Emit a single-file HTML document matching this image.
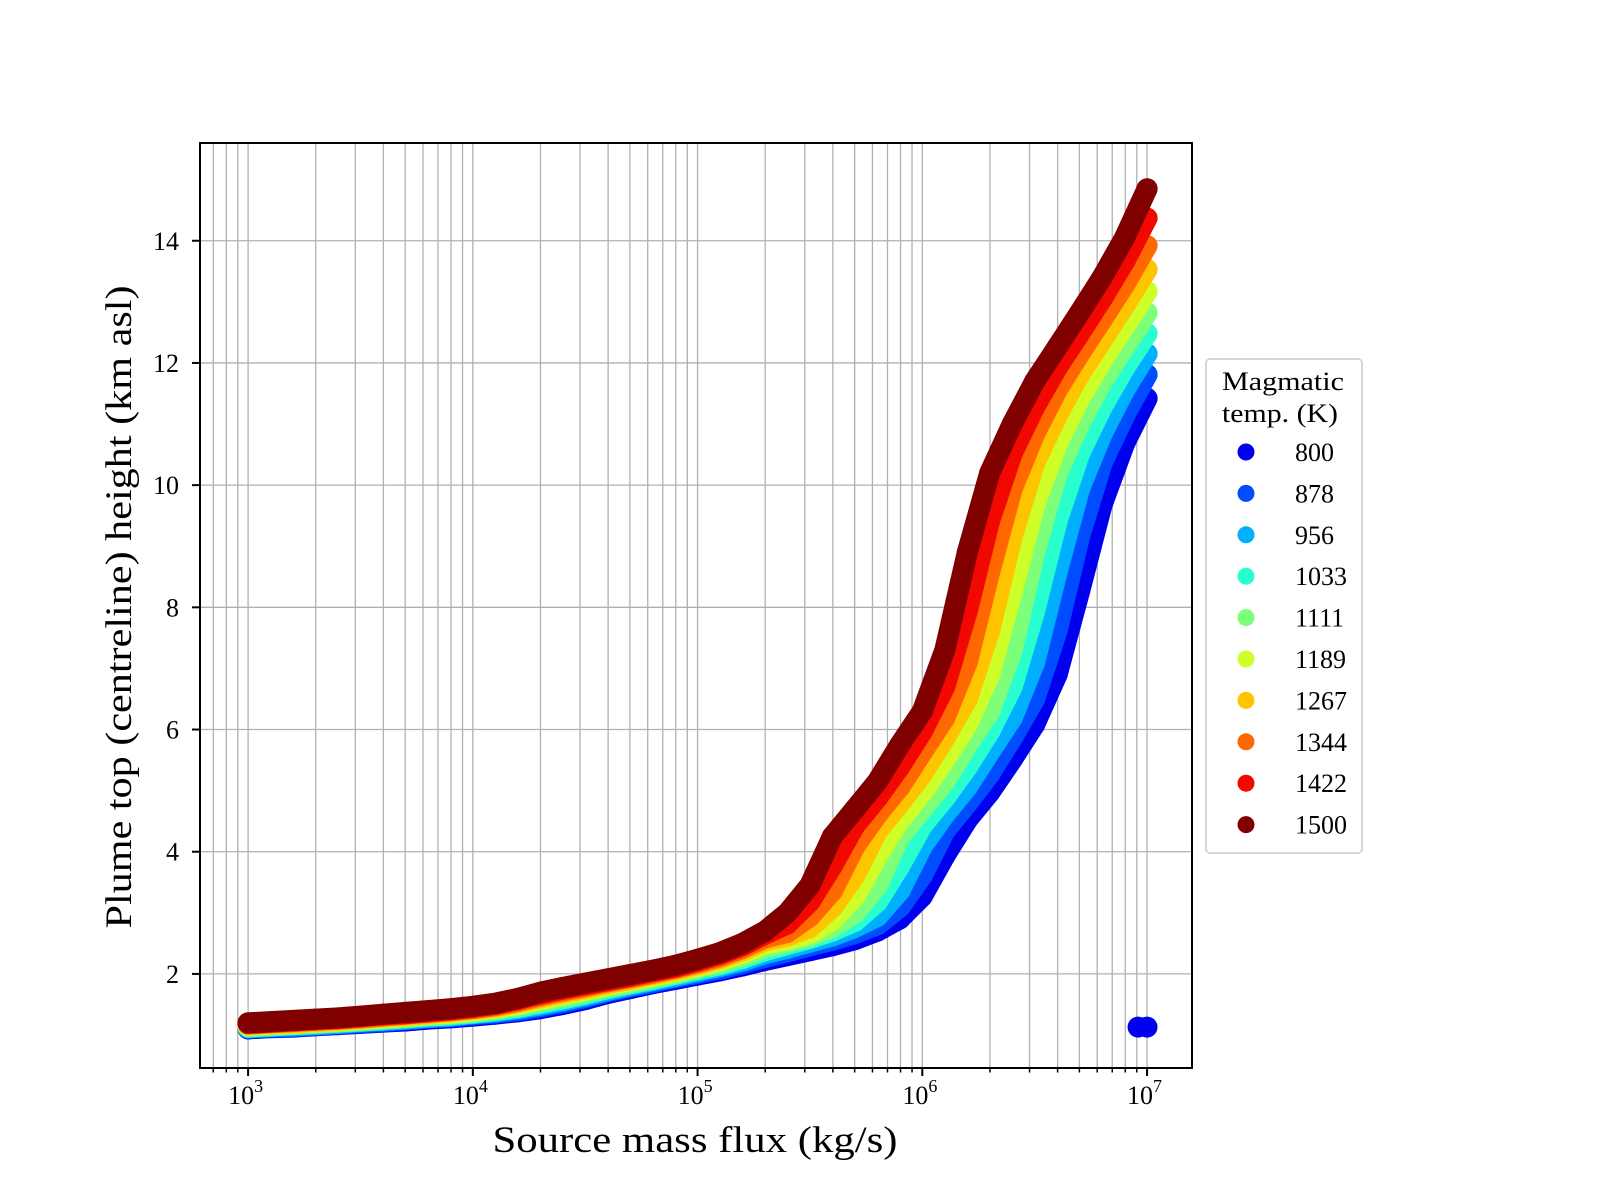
<!DOCTYPE html>
<html><head><meta charset="utf-8"><style>
html,body{margin:0;padding:0;background:#fff;}
svg{display:block;font-family:"Liberation Serif",serif;}
</style></head><body>
<svg id="chart" width="1600" height="1200" viewBox="0 0 1600 1200" xmlns="http://www.w3.org/2000/svg">
<rect x="0" y="0" width="1600" height="1200" fill="#fff"/>
<g id="grid"></g>
<g id="plot"></g>
<rect x="200" y="143" width="992" height="925" fill="none" stroke="#000" stroke-width="2"/>
<g id="xticks"></g>
<g id="yticks"></g>
<text x="695" y="1152" font-size="37" text-anchor="middle" textLength="405" lengthAdjust="spacingAndGlyphs">Source mass flux (kg/s)</text>
<text transform="translate(131,607) rotate(-90)" font-size="37" text-anchor="middle" textLength="643" lengthAdjust="spacingAndGlyphs">Plume top (centreline) height (km asl)</text>
<g id="legend">
<rect x="1206" y="359" width="156" height="494" rx="4" fill="#fff" stroke="#d5d5d5" stroke-width="2"/>
<text x="1222" y="390" font-size="26" textLength="122" lengthAdjust="spacingAndGlyphs">Magmatic</text>
<text x="1222" y="422" font-size="26" textLength="116" lengthAdjust="spacingAndGlyphs">temp. (K)</text>
</g>
</svg>
<script>
const logFlux = [3.0,3.1,3.2,3.3,3.4,3.5,3.6,3.7,3.8,3.9,4.0,4.1,4.2,4.3,4.4,4.5,4.6,4.7,4.8,4.9,5.0,5.1,5.2,5.3,5.4,5.5,5.6,5.7,5.8,5.9,6.0,6.1,6.2,6.3,6.4,6.5,6.6,6.7,6.8,6.9,7.0];
const temps = ["800","878","956","1033","1111","1189","1267","1344","1422","1500"];
const colors = ["#0000ee","#004cff","#00b0ff","#29ffce","#7dff7a","#ceff29","#ffc400","#ff6800","#f10800","#800000"];
const h800  = [1.10,1.12,1.13,1.15,1.17,1.19,1.21,1.23,1.26,1.28,1.31,1.34,1.38,1.43,1.50,1.58,1.68,1.76,1.84,1.91,1.98,2.05,2.13,2.22,2.30,2.38,2.46,2.56,2.70,2.90,3.27,3.93,4.52,4.97,5.51,6.08,6.90,8.26,9.68,10.68,11.42];
const h878  = [1.11,1.13,1.14,1.16,1.18,1.20,1.22,1.25,1.28,1.30,1.33,1.36,1.40,1.46,1.53,1.61,1.71,1.79,1.86,1.94,2.01,2.08,2.17,2.27,2.36,2.46,2.55,2.66,2.80,3.09,3.61,4.34,4.79,5.27,5.86,6.50,7.62,9.16,10.36,11.14,11.81];
const h956  = [1.12,1.14,1.15,1.17,1.19,1.22,1.24,1.26,1.29,1.31,1.35,1.38,1.43,1.49,1.56,1.64,1.73,1.81,1.89,1.96,2.04,2.12,2.21,2.33,2.42,2.52,2.62,2.76,2.94,3.36,4.09,4.61,5.06,5.63,6.19,7.10,8.58,9.94,10.84,11.56,12.15];
const h1033 = [1.13,1.15,1.17,1.19,1.21,1.23,1.25,1.28,1.31,1.33,1.36,1.40,1.45,1.52,1.59,1.67,1.76,1.84,1.91,1.99,2.07,2.15,2.25,2.38,2.48,2.58,2.70,2.86,3.18,3.77,4.43,4.88,5.39,5.97,6.70,7.94,9.42,10.52,11.28,11.92,12.48];
const h1111 = [1.14,1.16,1.18,1.20,1.22,1.24,1.27,1.29,1.32,1.35,1.38,1.42,1.48,1.55,1.62,1.70,1.79,1.86,1.94,2.01,2.10,2.18,2.29,2.43,2.52,2.62,2.76,3.00,3.45,4.25,4.70,5.15,5.75,6.30,7.30,8.90,10.20,11.00,11.70,12.26,12.82];
const h1189 = [1.16,1.18,1.19,1.21,1.23,1.26,1.28,1.31,1.34,1.36,1.40,1.44,1.50,1.58,1.66,1.73,1.81,1.89,1.96,2.04,2.12,2.22,2.34,2.49,2.56,2.66,2.88,3.27,3.93,4.52,4.97,5.51,6.08,6.90,8.26,9.68,10.68,11.42,12.04,12.60,13.17];
const h1267 = [1.17,1.19,1.20,1.22,1.24,1.27,1.30,1.32,1.35,1.38,1.42,1.46,1.53,1.61,1.69,1.76,1.84,1.91,1.99,2.06,2.15,2.25,2.38,2.54,2.62,2.76,3.09,3.61,4.34,4.79,5.27,5.86,6.50,7.62,9.16,10.36,11.14,11.81,12.37,12.94,13.53];
const h1344 = [1.18,1.20,1.22,1.24,1.26,1.28,1.31,1.34,1.37,1.40,1.43,1.48,1.55,1.64,1.72,1.79,1.87,1.94,2.01,2.09,2.18,2.28,2.42,2.59,2.68,2.94,3.36,4.09,4.61,5.06,5.63,6.19,7.10,8.58,9.94,10.84,11.56,12.15,12.71,13.28,13.92];
const h1422 = [1.19,1.21,1.23,1.25,1.27,1.30,1.33,1.35,1.38,1.41,1.45,1.50,1.58,1.67,1.75,1.82,1.89,1.96,2.04,2.11,2.21,2.32,2.46,2.65,2.82,3.18,3.77,4.43,4.88,5.39,5.97,6.70,7.94,9.42,10.52,11.28,11.92,12.48,13.05,13.66,14.37];
const h1500 = [1.20,1.22,1.24,1.26,1.28,1.31,1.34,1.37,1.40,1.43,1.47,1.52,1.60,1.70,1.78,1.85,1.92,1.99,2.06,2.14,2.24,2.35,2.50,2.70,3.00,3.45,4.25,4.70,5.15,5.75,6.30,7.30,8.90,10.20,11.00,11.70,12.26,12.82,13.40,14.05,14.85];
const outlierFlux = [6.96,7.0];
const outlierHeight = [1.13,1.13];
const yTicks = [2,4,6,8,10,12,14];
const xDecades = [3,4,5,6,7];

const NS = "http://www.w3.org/2000/svg";
const X0 = 200, X1 = 1192, Y0 = 143, Y1 = 1068;
const xmin = 2.786, xmax = 7.2, ymin = 0.46, ymax = 15.60;
function xs(L){ return X0 + (L - xmin) / (xmax - xmin) * (X1 - X0); }
function ys(h){ return Y1 - (h - ymin) / (ymax - ymin) * (Y1 - Y0); }
function mk(tag, attrs, parent){ const e = document.createElementNS(NS, tag); for (const k in attrs) e.setAttribute(k, attrs[k]); parent.appendChild(e); return e; }

const grid = document.getElementById('grid');
const xt = document.getElementById('xticks');
const yt = document.getElementById('yticks');
for (let d = 2; d <= 7; d++) {
  for (let m = 1; m <= 9; m++) {
    const L = d + Math.log10(m);
    if (L < xmin || L > xmax) continue;
    const x = xs(L);
    const gl = mk('line', {x1:x, x2:x, y1:Y0, y2:Y1, stroke:'#b0b0b0', 'stroke-width':1.3}, grid);
    
    
    const tk = mk('line', {x1:x, x2:x, y1:Y1, y2:Y1 + (m === 1 ? 8 : 4.5), stroke:'#000', 'stroke-width': m === 1 ? 2 : 1.5}, xt);
    
    
  }
}
xDecades.forEach(d => {
  const x = xs(d);
  const t = mk('text', {x: x - 20, y: 1104, 'font-size': 26}, xt);
  
  
  t.textContent = '10';
  const s = mk('tspan', {dy: -12, 'font-size': 18}, t);
  s.textContent = String(d);
});
yTicks.forEach(v => {
  const y = ys(v);
  const gl = mk('line', {x1:X0, x2:X1, y1:y, y2:y, stroke:'#b0b0b0', 'stroke-width':1.3}, grid);
  
  
  const tk = mk('line', {x1:X0 - 8, x2:X0, y1:y, y2:y, stroke:'#000', 'stroke-width':2}, yt);
  
  
  const t = mk('text', {x: 179, y: y + 9, 'font-size': 26, 'text-anchor': 'end'}, yt);
  
  
  t.textContent = String(v);
});

const series = [h800,h878,h956,h1033,h1111,h1189,h1267,h1344,h1422,h1500];
const plot = document.getElementById('plot');
const R = 10.5;
series.forEach((arr, i) => {
  const g = mk('g', {}, plot);
  
  
  const pts = arr.map((h, j) => xs(logFlux[j]).toFixed(1) + ',' + ys(h).toFixed(1)).join(' ');
  const pl = mk('polyline', {points: pts, fill: 'none', stroke: colors[i], 'stroke-width': 2 * R, 'stroke-linejoin': 'round', 'stroke-linecap': 'round'}, g);
  
  
  arr.forEach((h, j) => {
    const c = mk('circle', {cx: xs(logFlux[j]), cy: ys(h), r: R, fill: colors[i]}, g);
    
    
  });
});
outlierFlux.forEach((L, j) => {
  const c = mk('circle', {cx: xs(L), cy: ys(outlierHeight[j]), r: R, fill: colors[0]}, plot);
  
  
});

const lg = document.getElementById('legend');
temps.forEach((t, i) => {
  const cy = 452 + 41.4 * i;
  const c = mk('circle', {cx: 1246, cy: cy, r: 8.5, fill: colors[i]}, lg);
  
  
  const tx = mk('text', {x: 1295, y: cy + 9, 'font-size': 26}, lg);
  
  
  tx.textContent = t;
});
</script>
</body></html>
